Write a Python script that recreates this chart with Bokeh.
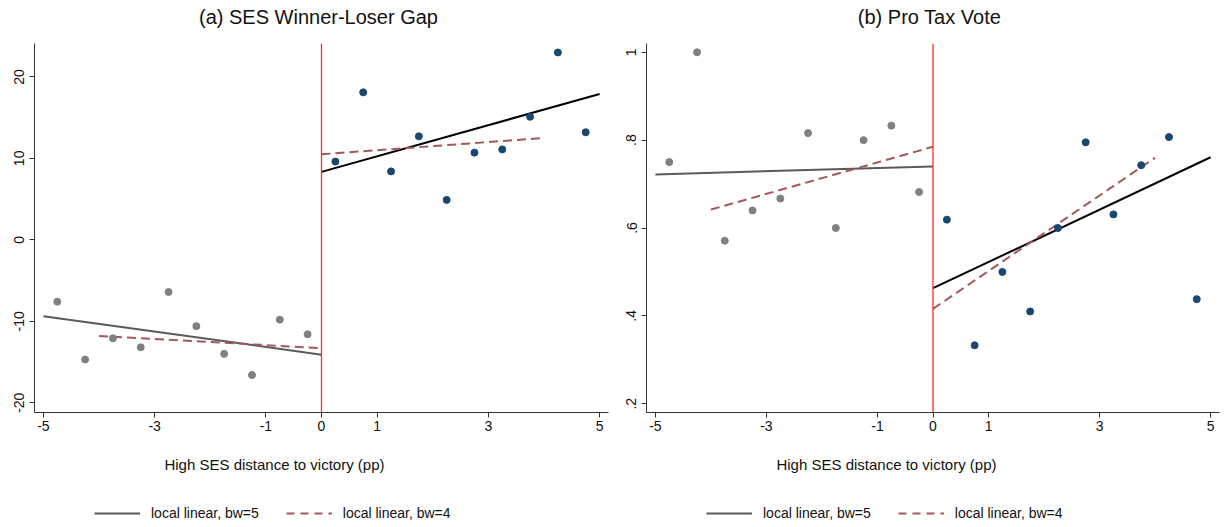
import numpy as np
from bokeh.plotting import figure
from bokeh.layouts import row, column
from bokeh.models import (Range1d, FixedTicker, CustomJSTickFormatter, Span,
                          Legend, LegendItem, ColumnDataSource)
from bokeh.core.properties import value
from bokeh.embed import file_html
from bokeh.resources import INLINE

# ---------------- data ----------------
bins_left = [-4.75, -4.25, -3.75, -3.25, -2.75, -2.25, -1.75, -1.25, -0.75, -0.25]
bins_right = [0.25, 0.75, 1.25, 1.75, 2.25, 2.75, 3.25, 3.75, 4.25, 4.75]

gap_left = [-7.6, -14.7, -12.1, -13.2, -6.4, -10.6, -14.0, -16.6, -9.8, -11.6]
gap_right = [9.6, 18.1, 8.4, 12.7, 4.9, 10.7, 11.1, 15.1, 23.0, 13.2]

tax_left = [0.75, 1.0, 0.571, 0.64, 0.667, 0.816, 0.6, 0.8, 0.833, 0.682]
tax_right = [0.619, 0.333, 0.5, 0.41, 0.6, 0.795, 0.631, 0.743, 0.807, 0.438]

# local linear fits (endpoints)
bw5_left_x = [-5, 0]
bw5_right_x = [0, 5]
bw4_left_x = [-4, 0]
bw4_right_x = [0, 4]

gap_bw5_left_y = [-9.37, -14.1]
gap_bw5_right_y = [8.34, 17.9]
gap_bw4_left_y = [-11.8, -13.3]
gap_bw4_right_y = [10.5, 12.5]

tax_bw5_left_y = [0.722, 0.740]
tax_bw5_right_y = [0.463, 0.761]
tax_bw4_left_y = [0.642, 0.785]
tax_bw4_right_y = [0.416, 0.760]

x_ticks = [-5, -3, -1, 0, 1, 3, 5]
gap_ticks = [-20, -10, 0, 10, 20]
tax_ticks = [0.2, 0.4, 0.6, 0.8, 1.0]

titles = ["(a) SES Winner-Loser Gap", "(b) Pro Tax Vote"]
xlabel = "High SES distance to victory (pp)"
legend_labels = ["local linear, bw=5", "local linear, bw=4"]

FONT = "Liberation Sans"
TXT = "#111111"
GRAY_DOT = "#808080"
NAVY = "#1a476f"
GRAY_LINE = "#5a5a5a"
CRAN = "#a3585d"
DASH = "9 5"


def bare(fig):
    fig.outline_line_color = None
    fig.xgrid.visible = False
    fig.ygrid.visible = False
    fig.border_fill_color = "white"
    fig.background_fill_color = "white"
    return fig


def panel(yrange, yticks, yfmt, yl, yr, l5, r5, l4, r4, mbr):
    p = figure(width=612, height=410, x_range=Range1d(-5.16, 5.16),
               y_range=Range1d(*yrange), output_backend="svg",
               toolbar_location=None, min_border_left=34, min_border_right=mbr,
               min_border_top=13, min_border_bottom=28)
    bare(p)
    for ax in (p.xaxis[0], p.yaxis[0]):
        ax.axis_line_color = "#333333"
        ax.major_tick_line_color = "#333333"
        ax.major_tick_out = 5
        ax.major_tick_in = 0
        ax.minor_tick_line_color = None
        ax.major_label_text_font = FONT
        ax.major_label_text_font_size = "14px"
        ax.major_label_text_color = TXT
    p.xaxis.ticker = FixedTicker(ticks=x_ticks)
    p.xaxis.formatter = CustomJSTickFormatter(code="return tick.toString();")
    p.xaxis.major_label_standoff = 3
    p.yaxis.ticker = FixedTicker(ticks=yticks)
    p.yaxis.formatter = CustomJSTickFormatter(code=yfmt)
    p.yaxis.major_label_orientation = "vertical"
    p.yaxis.major_label_standoff = 5

    p.add_layout(Span(location=0, dimension="height", line_color="#ff2a2a",
                      line_width=1.3))

    p.line(bw5_left_x, l5, line_color=GRAY_LINE, line_width=2)
    p.line(bw5_right_x, r5, line_color="black", line_width=2)
    p.line(bw4_left_x, l4, line_color=CRAN, line_width=2, line_dash=DASH)
    p.line(bw4_right_x, r4, line_color=CRAN, line_width=2, line_dash=DASH)

    p.scatter(bins_left, yl, size=7, fill_color=GRAY_DOT, line_color=GRAY_DOT)
    p.scatter(bins_right, yr, size=7, fill_color=NAVY, line_color=NAVY)
    return p


fmt_gap = "return tick.toString();"
fmt_tax = "if (tick >= 0.999) { return '1'; } return tick.toFixed(1).replace(/^0/, '');"

p1 = panel((-21.2, 24.1), gap_ticks, fmt_gap, gap_left, gap_right,
           gap_bw5_left_y, gap_bw5_right_y, gap_bw4_left_y, gap_bw4_right_y, 4)
p2 = panel((0.18, 1.02), tax_ticks, fmt_tax, tax_left, tax_right,
           tax_bw5_left_y, tax_bw5_right_y, tax_bw4_left_y, tax_bw4_right_y, 5)


def strip(h):
    s = figure(width=1224, height=h, x_range=Range1d(0, 1224), y_range=Range1d(h, 0),
               output_backend="svg", toolbar_location=None,
               x_axis_location=None, y_axis_location=None,
               min_border_left=0, min_border_right=0, min_border_top=0,
               min_border_bottom=0)
    return bare(s)


# top strip: panel titles (centred over each plot frame)
top = strip(30)
top.text(x=[318, 929], y=[16, 16], text=titles, text_font=value(FONT),
         text_font_size="20px", text_align="center", text_baseline="middle",
         text_color=TXT)

# bottom strip: axis titles and legends
bot = strip(87)
bot.text(x=[274, 886], y=[24, 24], text=[xlabel, xlabel], text_font=value(FONT),
         text_font_size="15px", text_align="center", text_baseline="middle",
         text_color=TXT)
# legend-only renderers (a single NaN point: nothing is drawn on the canvas)
key_src = ColumnDataSource(data=dict(x=np.array([np.nan]), y=np.array([np.nan])))
r_solid = bot.line("x", "y", source=key_src, line_color=GRAY_LINE, line_width=2)
r_dash = bot.line("x", "y", source=key_src, line_color=CRAN, line_width=2,
                  line_dash="8 6")
for lx in (94, 706):
    leg = Legend(items=[LegendItem(label=legend_labels[0], renderers=[r_solid]),
                        LegendItem(label=legend_labels[1], renderers=[r_dash])],
                 location=(lx, 6), orientation="horizontal",
                 glyph_width=46, glyph_height=16, label_standoff=11, spacing=27,
                 padding=0, margin=0, border_line_color=None,
                 background_fill_alpha=0, label_text_font=FONT,
                 label_text_font_size="14px", label_text_color=TXT,
                 label_height=16)
    bot.add_layout(leg, "center")

layout = column(top, row(p1, p2, spacing=0), bot, spacing=0)
open("out.html", "w").write(file_html(layout, INLINE))
